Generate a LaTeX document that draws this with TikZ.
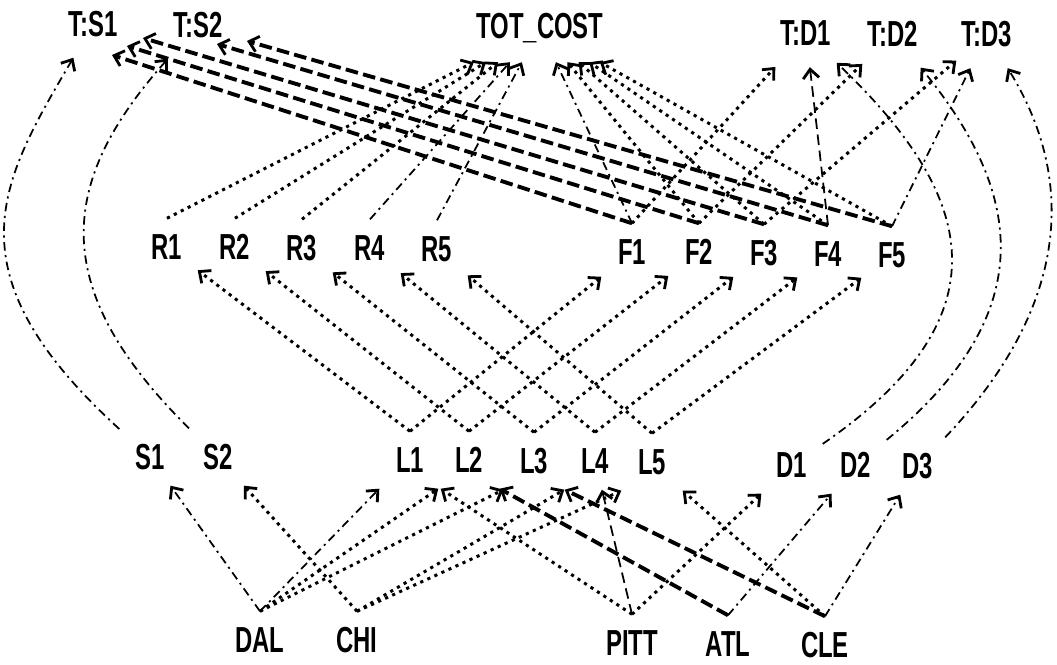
\documentclass[tikz,border=0pt]{standalone}
\usepackage{fontspec}
\newfontfamily\lblfont[FakeStretch=0.66]{Liberation Sans}
\usetikzlibrary{arrows.meta}
\tikzset{
  lab/.style={font=\lblfont\bfseries\fontsize{10.3}{12}\selectfont,inner sep=0pt,
              minimum width=0.6cm,minimum height=0.56cm},
  tgt/.style={lab,minimum height=0.66cm},
  arw/.style={-{Straight Barb[length=0.9mm,width=1.6mm,line width=0.8pt]}},
  dotl/.style={arw,line width=0.85pt,dash pattern=on 0.9pt off 1.3pt},
  dshl/.style={arw,line width=1.1pt,dash pattern=on 3.6pt off 1.5pt},
  ddl/.style={arw,line width=0.5pt,dash pattern=on 2.4pt off 1.3pt on 0.6pt off 1.3pt},
  thnl/.style={arw,line width=0.5pt,dash pattern=on 3pt off 1.6pt},
}
\begin{document}
\begin{tikzpicture}
\useasboundingbox (0,0) rectangle (10.57,-6.65);
% totals
\node[tgt] (ts1) at (0.93,-0.24) {T:S1};
\node[tgt] (ts2) at (1.98,-0.25) {T:S2};
\node[tgt,minimum width=1.5cm] (tot) at (5.40,-0.285) {TOT\_COST};
\node[tgt] (td1) at (8.06,-0.335) {T:D1};
\node[tgt] (td2) at (8.93,-0.34) {T:D2};
\node[tgt] (td3) at (9.87,-0.345) {T:D3};
% rates and flows
\node[lab] (r1) at (1.67,-2.47) {R1};
\node[lab] (r2) at (2.35,-2.47) {R2};
\node[lab] (r3) at (3.02,-2.48) {R3};
\node[lab] (r4) at (3.70,-2.48) {R4};
\node[lab] (r5) at (4.37,-2.49) {R5};
\node[lab] (f1) at (6.32,-2.52) {F1};
\node[lab] (f2) at (6.99,-2.52) {F2};
\node[lab] (f3) at (7.64,-2.53) {F3};
\node[lab] (f4) at (8.28,-2.54) {F4};
\node[lab] (f5) at (8.92,-2.55) {F5};
% supplies, lanes, demands
\node[lab] (s1) at (1.50,-4.57) {S1};
\node[lab] (s2) at (2.18,-4.57) {S2};
\node[lab] (l1) at (4.10,-4.60) {L1};
\node[lab] (l2) at (4.69,-4.60) {L2};
\node[lab] (l3) at (5.34,-4.61) {L3};
\node[lab] (l4) at (5.95,-4.61) {L4};
\node[lab] (l5) at (6.52,-4.62) {L5};
\node[lab] (d1) at (7.92,-4.65) {D1};
\node[lab] (d2) at (8.56,-4.65) {D2};
\node[lab] (d3) at (9.18,-4.66) {D3};
% cities
\node[lab] (dal) at (2.60,-6.40) {DAL};
\node[lab] (chi) at (3.57,-6.40) {CHI};
\node[lab] (pitt) at (6.32,-6.43) {PITT};
\node[lab] (atl) at (7.28,-6.44) {ATL};
\node[lab] (cle) at (8.25,-6.45) {CLE};
% cities to supplies, lanes, demands
\foreach \a/\b/\s in {dal/s1/ddl,chi/s2/dotl,dal/l1.south west/ddl,dal/l2.south west/dotl,
    dal/l3.south west/dotl,chi/l4.south west/dotl,chi/l5.south west/dotl,
    pitt/l1.south east/dotl,atl/l2.south east/dshl,cle/l3.south east/dshl,pitt/l4/thnl,
    cle/l5.south east/dotl,pitt/d1/dotl,atl/d2/ddl,cle/d3/ddl}
  \draw[\s] (\a.north) -- (\b);
% lanes to rates and flows
\foreach \i in {1,...,5} {
  \draw[dotl] (l\i.north) -- (r\i);
  \draw[dotl] (l\i.north) -- (f\i);
}
% cost
\foreach \a/\s in {r1/dotl,r2/dotl,r3/dotl,r4/ddl,r5/ddl,f1/ddl,f2/dotl,f3/dotl,f4/dotl,f5/dotl}
  \draw[\s] (\a.north) -- (tot);
% flows to supply totals
\foreach \a/\b/\dx/\dy in {f1/ts1/0.19/-0.31,f2/ts1/0.34/-0.22,f3/ts1/0.50/-0.14,
    f4/ts2/0.19/-0.19,f5/ts2/0.49/-0.16}
  \draw[dshl] (\a.north) -- ([shift={(\dx,\dy)}]\b.center);
% flows to demand totals
\foreach \a/\b/\s in {f1/td1/dotl,f4/td1/thnl,f2/td2/dotl,f3/td3/dotl,f5/td3/ddl}
  \draw[\s] (\a.north) -- (\b);
% supply and demand arcs
\draw[ddl] (s1) .. controls (-0.55,-2.70) and (0.02,-1.80) .. (ts1);
\draw[ddl] (s2) .. controls (0.45,-2.86) and (0.60,-1.80) .. (ts2);
\draw[ddl] (d1) .. controls (10.16,-3.11) and (9.68,-1.885) .. (td1);
\draw[ddl] (d2) .. controls (10.39,-3.15) and (10.26,-1.96) .. (td2);
\draw[ddl] (d3) .. controls (10.585,-3.18) and (10.836,-1.917) .. (td3);
\end{tikzpicture}
\end{document}
